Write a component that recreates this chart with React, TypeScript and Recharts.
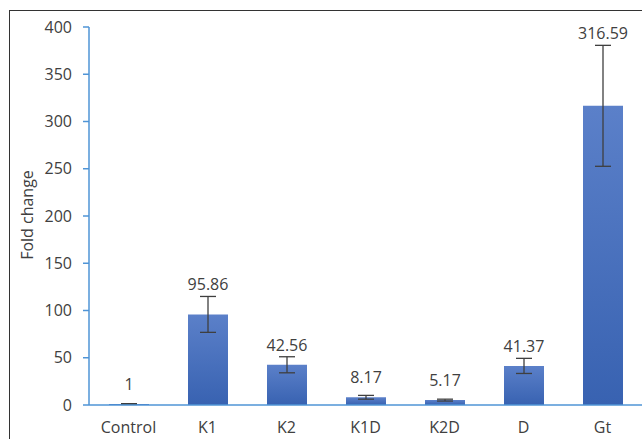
import { BarChart, Bar, XAxis, YAxis, ErrorBar, LabelList } from 'recharts'

const categories = ['Control', 'K1', 'K2', 'K1D', 'K2D', 'D', 'Gt']
const foldChange = [1, 95.86, 42.56, 8.17, 5.17, 41.37, 316.59]
const errors = [0.4, 19, 8.5, 2, 1, 8, 64]
const yTicks = [0, 50, 100, 150, 200, 250, 300, 350, 400]
const groupEdges = [0, 1, 2, 3, 4, 5, 6, 7]

const data = categories.map((name, i) => ({ name, value: foldChange[i], err: errors[i] }))

const axisBlue = '#4f94d6'
const textGrey = '#404040'
const font = '"Open Sans", sans-serif'

// value label sits just above the error bar cap (or at least a bit above the bar)
// eslint-disable-next-line @typescript-eslint/no-explicit-any
const renderValueLabel = (props: any) => {
  const { x, y, width, height, value, index } = props
  const perUnit = value ? height / value : 0
  const top = y - errors[index] * perUnit
  return (
    <text
      x={x + width / 2}
      y={Math.min(top - 6, y - 14)}
      textAnchor="middle"
      fill={textGrey}
      fontSize={16}
      fontFamily={font}
    >
      {value}
    </text>
  )
}

export default function App() {
  return (
    <div style={{ position: 'absolute', left: 0, top: 0, width: 642, height: 439, background: '#fff', overflow: 'hidden' }}>
      <div
        style={{
          position: 'absolute',
          left: 9,
          top: 10,
          width: 640,
          height: 440,
          borderTop: '1.5px solid #333',
          borderLeft: '1.5px solid #333',
        }}
      />
      <BarChart
        width={642}
        height={439}
        data={data}
        margin={{ top: 27, right: 0, bottom: 4, left: 0 }}
        style={{ position: 'absolute', left: 0, top: 0 }}
      >
        <defs>
          <linearGradient id="barFill" x1="0" y1="0" x2="0" y2="1">
            <stop offset="0%" stopColor="#5b80c9" />
            <stop offset="100%" stopColor="#3862b1" />
          </linearGradient>
        </defs>
        <XAxis
          xAxisId="edges"
          type="number"
          domain={[0, 7]}
          ticks={groupEdges}
          tick={false}
          height={0}
          axisLine={false}
          tickLine={{ stroke: axisBlue, strokeWidth: 1.5 }}
          tickSize={6}
          allowDataOverflow
        />
        <XAxis
          dataKey="name"
          height={30}
          tickLine={false}
          axisLine={{ stroke: axisBlue, strokeWidth: 1.5 }}
          tickMargin={11}
          tick={{ fill: textGrey, fontSize: 16, fontFamily: font }}
        />
        <YAxis
          domain={[0, 400]}
          ticks={yTicks}
          width={89}
          tickSize={6}
          tickMargin={11}
          axisLine={{ stroke: axisBlue, strokeWidth: 1.5 }}
          tickLine={{ stroke: axisBlue, strokeWidth: 1.5 }}
          tick={{ fill: textGrey, fontSize: 16, fontFamily: font }}
          label={{
            value: 'Fold change',
            content: () => (
              <text
                x={29}
                y={215}
                transform="rotate(-90 29 215)"
                textAnchor="middle"
                dominantBaseline="middle"
                fill={textGrey}
                fontSize={16}
                fontFamily={font}
              >
                Fold change
              </text>
            ),
          }}
        />
        <Bar dataKey="value" fill="url(#barFill)" barSize={40} isAnimationActive={false}>
          <ErrorBar dataKey="err" width={8} stroke="#3f3f3f" strokeWidth={1.3} />
          <LabelList dataKey="value" content={renderValueLabel} />
        </Bar>
      </BarChart>
    </div>
  )
}
